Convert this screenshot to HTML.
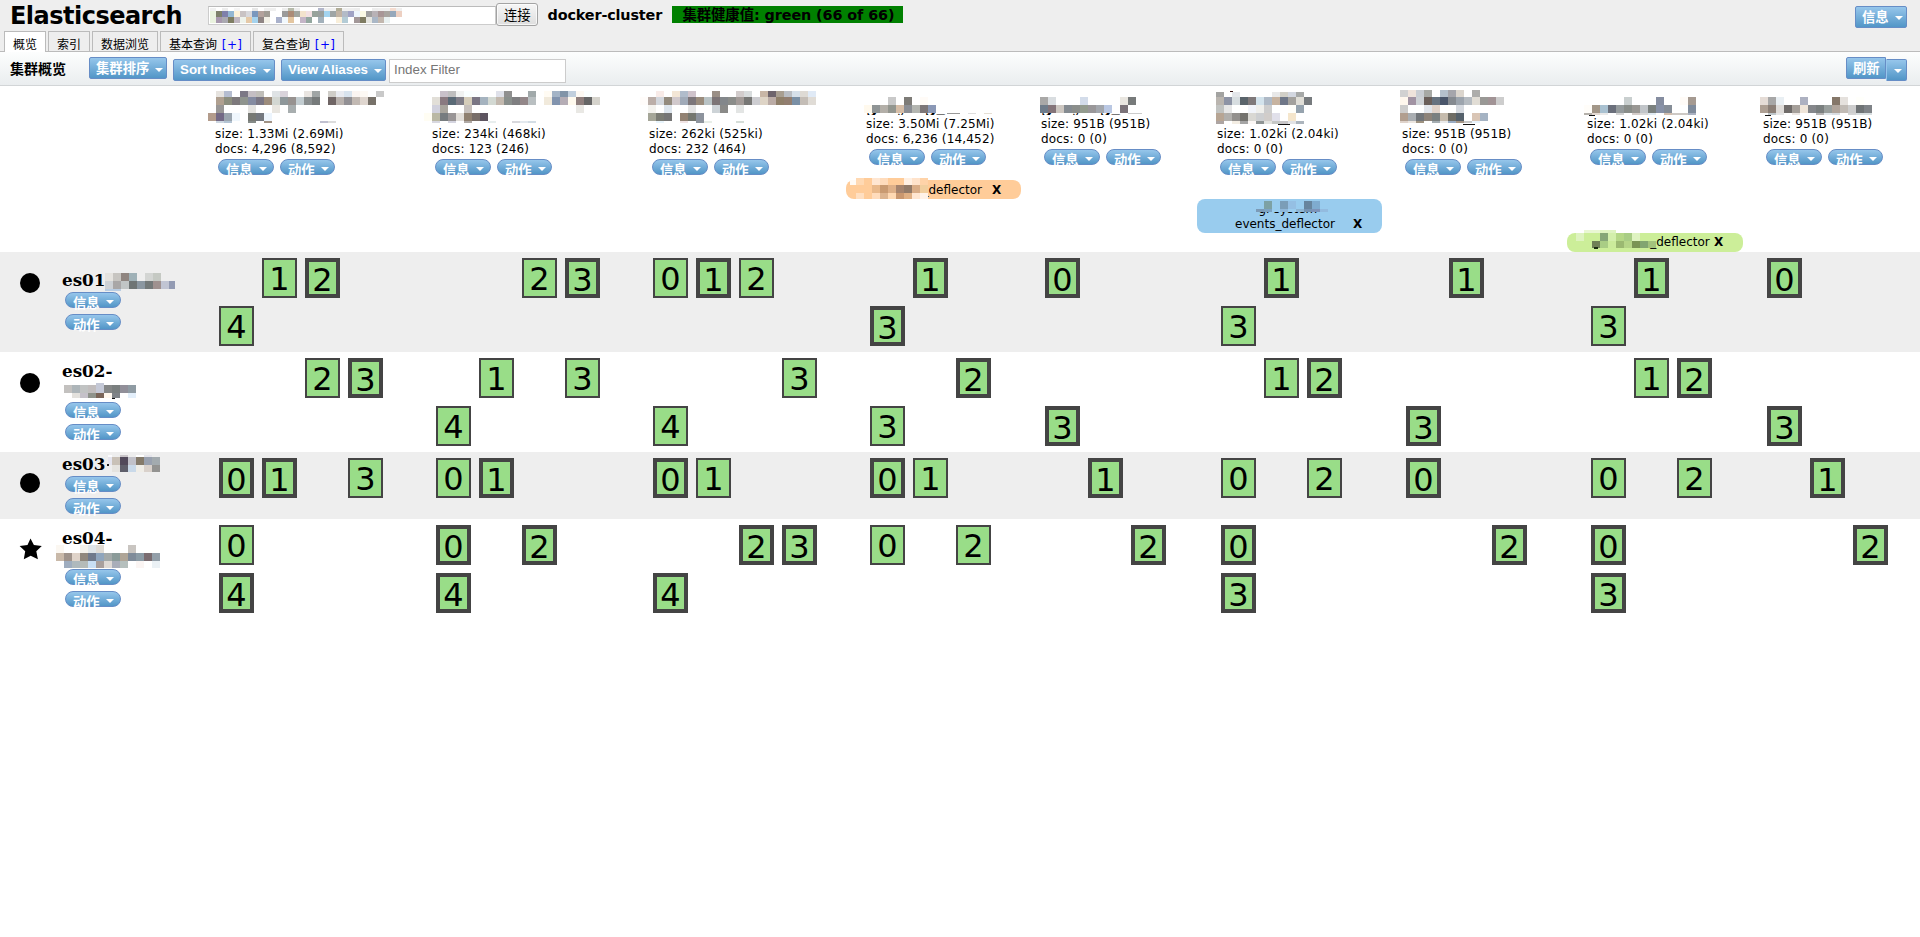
<!DOCTYPE html>
<html lang="zh"><head><meta charset="utf-8"><title>elasticsearch-head</title>
<style>
*{box-sizing:border-box}
html,body{margin:0;padding:0}
body{width:1920px;height:937px;position:relative;overflow:hidden;background:#fff;color:#000;
 font-family:"DejaVu Sans","Noto Sans CJK SC",sans-serif;font-size:12px;}
.abs{position:absolute;white-space:nowrap}
#hdr{left:0;top:0;width:1920px;height:51px;background:#eee}
#hline{left:0;top:51px;width:1920px;height:1px;background:#bbb}
#tbar{left:0;top:51px;width:1920px;height:34px;background:linear-gradient(#fdfefe,#eaedef)}
#tline{left:0;top:85px;width:1920px;height:1px;background:#d2d5d7}
h1{margin:0;font-size:24px;font-weight:bold;letter-spacing:-0.52px;line-height:28px}
.tab{top:31px;height:20px;border:1px solid #bbb;border-bottom:0;font-size:12px;line-height:14px;padding:6px 0 0 8px;background:#eee}
.tab.active{background:#fff;height:21px}
.tab i{font-style:normal;color:#00f;letter-spacing:0.4px;margin-left:1px}
.btn{border:1px solid #668dc6;border-radius:2px;background:linear-gradient(#96c6eb,#5296c7);color:#fff;
 font-family:"Liberation Sans","Noto Sans CJK SC",sans-serif;font-weight:bold;font-size:13.33px;height:22px;line-height:15px;padding:2px 0 0 6px}
.btn.cj{padding-top:3px}
.pill{border:1px solid #668dc6;border-radius:8px;background:linear-gradient(#96c6eb,#5296c7);color:#fff;
 font-family:"Liberation Sans","Noto Sans CJK SC",sans-serif;font-weight:bold;font-size:13.33px;height:16px;width:56px;line-height:15px;padding:3px 0 0 7px}
.arr{position:absolute;width:0;height:0;border-left:4px solid transparent;border-right:4px solid transparent;border-top:4.5px solid #fff}
.txt{font-size:12px;line-height:15px;letter-spacing:0.17px}
.sh{position:absolute;width:35px;height:40px;border:2px solid #444;background:#99dd88;font-size:32px;line-height:32px;text-align:center;padding-top:3px}
.sh.p{border-width:4px;padding-top:2px}
.row{left:0;width:1920px}
.node{font-family:"DejaVu Serif","Liberation Serif",serif;font-weight:bold;font-size:16.8px;line-height:20px}
.alias{font-size:12px;line-height:15px;border-radius:8px}
.alias b{font-weight:bold}
</style></head>
<body>
<div class="abs" id="hdr"></div>
<div class="abs" id="tbar"></div>
<div class="abs" id="hline"></div>
<div class="abs" id="tline"></div>
<h1 class="abs" style="left:10px;top:2px">Elasticsearch</h1>
<div class="abs" style="left:208px;top:6px;width:288px;height:19px;background:#fff;border:1px solid #ccc;border-top-color:#bbb"></div>
<div class="abs" style="left:496px;top:3px;width:42px;height:23px;border:1px solid #a3a3a3;border-radius:3px;background:linear-gradient(#f6f6f6,#dedede);box-shadow:inset 0 0 0 1px rgba(255,255,255,.7);font-size:13.33px;line-height:16px;padding:4px 0 0 7px">连接</div>
<div class="abs" style="left:547.6px;top:6px;font-weight:bold;font-size:14.4px;line-height:18px;letter-spacing:-0.16px">docker-cluster</div>
<div class="abs" style="left:672px;top:6px;width:231px;height:17px;background:#008000;font-weight:bold;font-size:14.4px;line-height:19px;letter-spacing:-0.1px;padding-left:10.5px">集群健康值: green (66 of 66)</div>
<div class="abs btn cj" style="left:1855px;top:6px;width:52px">信息<span class="arr" style="left:39px;top:9px"></span></div>
<div class="abs tab active" style="left:4px;width:42px">概览</div>
<div class="abs tab" style="left:48px;width:42px">索引</div>
<div class="abs tab" style="left:92px;width:66px">数据浏览</div>
<div class="abs tab" style="left:160px;width:91px">基本查询 <i>[+]</i></div>
<div class="abs tab" style="left:253px;width:91px">复合查询 <i>[+]</i></div>
<div class="abs" style="left:10px;top:60px;font-weight:bold;font-size:14px;line-height:18px">集群概览</div>
<div class="abs btn cj" style="left:89px;top:57px;width:78px">集群排序<span class="arr" style="left:65px;top:10px"></span></div>
<div class="abs btn" style="left:173px;top:59px;width:102px">Sort Indices<span class="arr" style="left:89px;top:9px"></span></div>
<div class="abs btn" style="left:281px;top:59px;width:105px">View Aliases<span class="arr" style="left:92px;top:9px"></span></div>
<div class="abs" style="left:389px;top:59px;width:177px;height:24px;background:#fff;border:1px solid #ccc;font-family:'Liberation Sans',sans-serif;font-size:13.33px;line-height:16px;color:#767676;padding:2px 0 0 4px">Index Filter</div>
<div class="abs btn cj" style="left:1846px;top:57px;width:40px;border-radius:2px 0 0 2px">刷新</div>
<div class="abs btn" style="left:1886px;top:59px;width:21px;border-radius:0 2px 2px 0;border-left-color:#96c6eb"><span class="arr" style="left:7px;top:9px"></span></div>
<div class="abs row" style="top:252px;height:100px;background:#eee"></div>
<div class="abs row" style="top:452px;height:67px;background:#eee"></div>
<div class="abs txt" style="left:215px;top:127px">size: 1.33Mi (2.69Mi)<br>docs: 4,296 (8,592)</div>
<div class="abs pill" style="left:218px;top:159px;width:56px">信息<span class="arr" style="left:40px;top:7px"></span></div>
<div class="abs pill" style="left:280px;top:159px;width:55px">动作<span class="arr" style="left:40px;top:7px"></span></div>
<div class="abs txt" style="left:432px;top:127px">size: 234ki (468ki)<br>docs: 123 (246)</div>
<div class="abs pill" style="left:435px;top:159px;width:56px">信息<span class="arr" style="left:40px;top:7px"></span></div>
<div class="abs pill" style="left:497px;top:159px;width:55px">动作<span class="arr" style="left:40px;top:7px"></span></div>
<div class="abs txt" style="left:649px;top:127px">size: 262ki (525ki)<br>docs: 232 (464)</div>
<div class="abs pill" style="left:652px;top:159px;width:56px">信息<span class="arr" style="left:40px;top:7px"></span></div>
<div class="abs pill" style="left:714px;top:159px;width:55px">动作<span class="arr" style="left:40px;top:7px"></span></div>
<div class="abs txt" style="left:866px;top:117px">size: 3.50Mi (7.25Mi)<br>docs: 6,236 (14,452)</div>
<div class="abs pill" style="left:869px;top:149px;width:56px">信息<span class="arr" style="left:40px;top:7px"></span></div>
<div class="abs pill" style="left:931px;top:149px;width:55px">动作<span class="arr" style="left:40px;top:7px"></span></div>
<div class="abs txt" style="left:1041px;top:117px">size: 951B (951B)<br>docs: 0 (0)</div>
<div class="abs pill" style="left:1044px;top:149px;width:56px">信息<span class="arr" style="left:40px;top:7px"></span></div>
<div class="abs pill" style="left:1106px;top:149px;width:55px">动作<span class="arr" style="left:40px;top:7px"></span></div>
<div class="abs txt" style="left:1217px;top:127px">size: 1.02ki (2.04ki)<br>docs: 0 (0)</div>
<div class="abs pill" style="left:1220px;top:159px;width:56px">信息<span class="arr" style="left:40px;top:7px"></span></div>
<div class="abs pill" style="left:1282px;top:159px;width:55px">动作<span class="arr" style="left:40px;top:7px"></span></div>
<div class="abs txt" style="left:1402px;top:127px">size: 951B (951B)<br>docs: 0 (0)</div>
<div class="abs pill" style="left:1405px;top:159px;width:56px">信息<span class="arr" style="left:40px;top:7px"></span></div>
<div class="abs pill" style="left:1467px;top:159px;width:55px">动作<span class="arr" style="left:40px;top:7px"></span></div>
<div class="abs txt" style="left:1587px;top:117px">size: 1.02ki (2.04ki)<br>docs: 0 (0)</div>
<div class="abs pill" style="left:1590px;top:149px;width:56px">信息<span class="arr" style="left:40px;top:7px"></span></div>
<div class="abs pill" style="left:1652px;top:149px;width:55px">动作<span class="arr" style="left:40px;top:7px"></span></div>
<div class="abs txt" style="left:1763px;top:117px">size: 951B (951B)<br>docs: 0 (0)</div>
<div class="abs pill" style="left:1766px;top:149px;width:56px">信息<span class="arr" style="left:40px;top:7px"></span></div>
<div class="abs pill" style="left:1828px;top:149px;width:55px">动作<span class="arr" style="left:40px;top:7px"></span></div>
<div class="abs node" style="left:866px;top:113px;width:84px;height:2px;overflow:hidden"><span style="position:absolute;left:0;top:-17.4px">graylog_</span></div>
<div class="abs node" style="left:1041px;top:113px;width:84px;height:2px;overflow:hidden"><span style="position:absolute;left:0;top:-17.4px">graylog_</span></div>
<div class="abs alias" style="left:846px;top:180px;width:175px;height:19px;background:#ffcc99;padding:3px 0 0 76.5px">_deflector<b style="position:absolute;left:146px">X</b></div>
<div class="abs alias" style="left:1197px;top:199px;width:185px;height:34px;background:#99ccee;padding:18px 0 0 38px">events_deflector<b style="position:absolute;left:156px">X</b></div>
<div class="abs alias" style="left:1567px;top:233px;width:176px;height:19px;background:#ccee99;padding:2px 0 0 83.2px">_deflector<b style="position:absolute;left:147px">X</b></div>
<div class="abs" style="left:1197px;top:212px;width:185px;height:4px;overflow:hidden;font-size:12px;line-height:15px"><span style="position:absolute;left:61.5px;top:-10.2px">gl-system-</span></div>
<div class="abs node" style="left:62px;top:270px">es01</div>
<div class="abs pill" style="left:65px;top:292px;width:56px">信息<span class="arr" style="left:40px;top:7px"></span></div>
<div class="abs pill" style="left:65px;top:314px;width:56px">动作<span class="arr" style="left:40px;top:7px"></span></div>
<div class="abs" style="left:20px;top:272.5px;width:20px;height:20px;border-radius:50%;background:#000"></div>
<div class="abs node" style="left:62px;top:361px">es02-</div>
<div class="abs pill" style="left:65px;top:402px;width:56px">信息<span class="arr" style="left:40px;top:7px"></span></div>
<div class="abs pill" style="left:65px;top:424px;width:56px">动作<span class="arr" style="left:40px;top:7px"></span></div>
<div class="abs" style="left:20px;top:372.5px;width:20px;height:20px;border-radius:50%;background:#000"></div>
<div class="abs node" style="left:62px;top:454px">es03</div>
<div class="abs pill" style="left:65px;top:476px;width:56px">信息<span class="arr" style="left:40px;top:7px"></span></div>
<div class="abs pill" style="left:65px;top:498px;width:56px">动作<span class="arr" style="left:40px;top:7px"></span></div>
<div class="abs" style="left:20px;top:472.5px;width:20px;height:20px;border-radius:50%;background:#000"></div>
<div class="abs node" style="left:62px;top:528px">es04-</div>
<div class="abs pill" style="left:65px;top:569px;width:56px">信息<span class="arr" style="left:40px;top:7px"></span></div>
<div class="abs pill" style="left:65px;top:591px;width:56px">动作<span class="arr" style="left:40px;top:7px"></span></div>
<svg class="abs" style="left:19px;top:538px" width="24" height="23" viewBox="0 0 24 23"><polygon fill="#000" points="11.5,0.6 14.9,7 22.8,7.9 17.3,13.2 18.9,21.3 11.7,17.8 4.8,21.3 6.2,13.2 0.6,7.9 8.5,7"/></svg>
<div class="sh" style="left:262px;top:258px">1</div>
<div class="sh p" style="left:305px;top:258px">2</div>
<div class="sh" style="left:219px;top:306px">4</div>
<div class="sh" style="left:522px;top:258px">2</div>
<div class="sh p" style="left:565px;top:258px">3</div>
<div class="sh" style="left:653px;top:258px">0</div>
<div class="sh p" style="left:696px;top:258px">1</div>
<div class="sh" style="left:739px;top:258px">2</div>
<div class="sh p" style="left:913px;top:258px">1</div>
<div class="sh p" style="left:870px;top:306px">3</div>
<div class="sh p" style="left:1045px;top:258px">0</div>
<div class="sh p" style="left:1264px;top:258px">1</div>
<div class="sh" style="left:1221px;top:306px">3</div>
<div class="sh p" style="left:1449px;top:258px">1</div>
<div class="sh p" style="left:1634px;top:258px">1</div>
<div class="sh" style="left:1591px;top:306px">3</div>
<div class="sh p" style="left:1767px;top:258px">0</div>
<div class="sh" style="left:305px;top:358px">2</div>
<div class="sh p" style="left:348px;top:358px">3</div>
<div class="sh" style="left:479px;top:358px">1</div>
<div class="sh" style="left:565px;top:358px">3</div>
<div class="sh" style="left:436px;top:406px">4</div>
<div class="sh" style="left:782px;top:358px">3</div>
<div class="sh" style="left:653px;top:406px">4</div>
<div class="sh p" style="left:956px;top:358px">2</div>
<div class="sh" style="left:870px;top:406px">3</div>
<div class="sh p" style="left:1045px;top:406px">3</div>
<div class="sh" style="left:1264px;top:358px">1</div>
<div class="sh p" style="left:1307px;top:358px">2</div>
<div class="sh p" style="left:1406px;top:406px">3</div>
<div class="sh" style="left:1634px;top:358px">1</div>
<div class="sh p" style="left:1677px;top:358px">2</div>
<div class="sh p" style="left:1767px;top:406px">3</div>
<div class="sh p" style="left:219px;top:458px">0</div>
<div class="sh p" style="left:262px;top:458px">1</div>
<div class="sh" style="left:348px;top:458px">3</div>
<div class="sh" style="left:436px;top:458px">0</div>
<div class="sh p" style="left:479px;top:458px">1</div>
<div class="sh p" style="left:653px;top:458px">0</div>
<div class="sh" style="left:696px;top:458px">1</div>
<div class="sh p" style="left:870px;top:458px">0</div>
<div class="sh" style="left:913px;top:458px">1</div>
<div class="sh p" style="left:1088px;top:458px">1</div>
<div class="sh" style="left:1221px;top:458px">0</div>
<div class="sh" style="left:1307px;top:458px">2</div>
<div class="sh p" style="left:1406px;top:458px">0</div>
<div class="sh" style="left:1591px;top:458px">0</div>
<div class="sh" style="left:1677px;top:458px">2</div>
<div class="sh p" style="left:1810px;top:458px">1</div>
<div class="sh" style="left:219px;top:525px">0</div>
<div class="sh p" style="left:219px;top:573px">4</div>
<div class="sh p" style="left:436px;top:525px">0</div>
<div class="sh p" style="left:522px;top:525px">2</div>
<div class="sh p" style="left:436px;top:573px">4</div>
<div class="sh p" style="left:739px;top:525px">2</div>
<div class="sh p" style="left:782px;top:525px">3</div>
<div class="sh p" style="left:653px;top:573px">4</div>
<div class="sh" style="left:870px;top:525px">0</div>
<div class="sh" style="left:956px;top:525px">2</div>
<div class="sh p" style="left:1131px;top:525px">2</div>
<div class="sh p" style="left:1221px;top:525px">0</div>
<div class="sh p" style="left:1221px;top:573px">3</div>
<div class="sh p" style="left:1492px;top:525px">2</div>
<div class="sh p" style="left:1591px;top:525px">0</div>
<div class="sh p" style="left:1591px;top:573px">3</div>
<div class="sh p" style="left:1853px;top:525px">2</div>
<svg class="abs" style="left:0;top:0;pointer-events:none" width="1920" height="937" viewBox="0 0 1920 937" shape-rendering="crispEdges"><rect x="210" y="8" width="6" height="3" fill="#f1f1f1"/><rect x="222" y="8" width="6" height="3" fill="#ededed"/><rect x="234" y="8" width="6" height="3" fill="#f5f5f5"/><rect x="252" y="8" width="6" height="3" fill="#e7e7e7"/><rect x="264" y="8" width="6" height="3" fill="#efefef"/><rect x="270" y="8" width="6" height="3" fill="#efefef"/><rect x="282" y="8" width="6" height="3" fill="#ededed"/><rect x="288" y="8" width="6" height="3" fill="#b7bbab"/><rect x="294" y="8" width="6" height="3" fill="#ededed"/><rect x="318" y="8" width="6" height="3" fill="#b3b7cb"/><rect x="324" y="8" width="6" height="3" fill="#efefef"/><rect x="330" y="8" width="6" height="3" fill="#f1f1f1"/><rect x="336" y="8" width="6" height="3" fill="#b1ad97"/><rect x="342" y="8" width="6" height="3" fill="#efefef"/><rect x="348" y="8" width="6" height="3" fill="#efefef"/><rect x="354" y="8" width="6" height="3" fill="#ededed"/><rect x="372" y="8" width="6" height="3" fill="#ededed"/><rect x="378" y="8" width="6" height="3" fill="#efefef"/><rect x="384" y="8" width="6" height="3" fill="#efefef"/><rect x="390" y="8" width="6" height="3" fill="#f5ddd1"/><rect x="396" y="8" width="6" height="3" fill="#efefef"/><rect x="210" y="11" width="6" height="6" fill="#eaf3df"/><rect x="216" y="11" width="6" height="6" fill="#7d806a"/><rect x="222" y="11" width="6" height="6" fill="#7f80ab"/><rect x="228" y="11" width="6" height="6" fill="#93b7d3"/><rect x="234" y="11" width="6" height="6" fill="#fdf2da"/><rect x="240" y="11" width="6" height="6" fill="#c9c3c4"/><rect x="246" y="11" width="6" height="6" fill="#d8d8dc"/><rect x="252" y="11" width="6" height="6" fill="#7a97bd"/><rect x="258" y="11" width="6" height="6" fill="#b3a29c"/><rect x="264" y="11" width="6" height="6" fill="#a09c94"/><rect x="282" y="11" width="6" height="6" fill="#9b9b9b"/><rect x="288" y="11" width="6" height="6" fill="#ac8c77"/><rect x="294" y="11" width="6" height="6" fill="#a2a69f"/><rect x="300" y="11" width="6" height="6" fill="#f3e3cd"/><rect x="306" y="11" width="6" height="6" fill="#f3e1e3"/><rect x="312" y="11" width="6" height="6" fill="#98a39c"/><rect x="318" y="11" width="6" height="6" fill="#9aa09e"/><rect x="324" y="11" width="6" height="6" fill="#a3d4f0"/><rect x="330" y="11" width="6" height="6" fill="#9fa5a5"/><rect x="336" y="11" width="6" height="6" fill="#c1b3a3"/><rect x="342" y="11" width="6" height="6" fill="#b3bbc7"/><rect x="348" y="11" width="6" height="6" fill="#a0a3c5"/><rect x="354" y="11" width="6" height="6" fill="#eef6fd"/><rect x="360" y="11" width="6" height="6" fill="#fbfae5"/><rect x="366" y="11" width="6" height="6" fill="#a0a0a0"/><rect x="372" y="11" width="6" height="6" fill="#b8b2b6"/><rect x="378" y="11" width="6" height="6" fill="#a89696"/><rect x="384" y="11" width="6" height="6" fill="#a8a49f"/><rect x="390" y="11" width="6" height="6" fill="#96a8bb"/><rect x="396" y="11" width="6" height="6" fill="#edd0c2"/><rect x="210" y="17" width="6" height="6" fill="#eaf3df"/><rect x="216" y="17" width="6" height="6" fill="#a798ae"/><rect x="222" y="17" width="6" height="6" fill="#aaa9b1"/><rect x="228" y="17" width="6" height="6" fill="#7e7d63"/><rect x="234" y="17" width="6" height="6" fill="#c0b7c1"/><rect x="240" y="17" width="6" height="6" fill="#eef3ec"/><rect x="246" y="17" width="6" height="6" fill="#e5c9a8"/><rect x="252" y="17" width="6" height="6" fill="#a5d3ee"/><rect x="258" y="17" width="6" height="6" fill="#8f8584"/><rect x="264" y="17" width="6" height="6" fill="#f3f1e7"/><rect x="276" y="17" width="6" height="6" fill="#a9b1cb"/><rect x="282" y="17" width="6" height="6" fill="#f1f8fd"/><rect x="288" y="17" width="6" height="6" fill="#e4c6a0"/><rect x="300" y="17" width="6" height="6" fill="#c4b5c7"/><rect x="306" y="17" width="6" height="6" fill="#93a79f"/><rect x="318" y="17" width="6" height="6" fill="#a3b1bb"/><rect x="336" y="17" width="6" height="6" fill="#f9efda"/><rect x="342" y="17" width="6" height="6" fill="#b4ccd6"/><rect x="354" y="17" width="6" height="6" fill="#a39899"/><rect x="360" y="17" width="6" height="6" fill="#7f7c62"/><rect x="366" y="17" width="6" height="6" fill="#e6e6e0"/><rect x="372" y="17" width="6" height="6" fill="#aab7c6"/><rect x="378" y="17" width="6" height="6" fill="#c2b7ae"/><rect x="384" y="17" width="6" height="6" fill="#e9f1f1"/><rect x="216" y="91" width="8" height="6" fill="#e6e3df"/><rect x="224" y="91" width="8" height="6" fill="#b5bdd0"/><rect x="240" y="91" width="8" height="6" fill="#7c7886"/><rect x="248" y="91" width="8" height="6" fill="#c4bec3"/><rect x="256" y="91" width="8" height="6" fill="#c0beb9"/><rect x="272" y="91" width="8" height="6" fill="#dfe3e5"/><rect x="280" y="91" width="8" height="6" fill="#d9d3db"/><rect x="304" y="91" width="8" height="6" fill="#e9e5e1"/><rect x="312" y="91" width="8" height="6" fill="#a0a5a5"/><rect x="328" y="91" width="8" height="6" fill="#cfcdc8"/><rect x="336" y="91" width="8" height="6" fill="#e9ebf1"/><rect x="344" y="91" width="8" height="6" fill="#d8e3ee"/><rect x="352" y="91" width="8" height="6" fill="#fbf5f2"/><rect x="360" y="91" width="8" height="6" fill="#fdf9f4"/><rect x="376" y="91" width="8" height="6" fill="#c9c9c9"/><rect x="216" y="97" width="8" height="8" fill="#b0a090"/><rect x="224" y="97" width="8" height="8" fill="#8c8e7e"/><rect x="232" y="97" width="8" height="8" fill="#7d797c"/><rect x="240" y="97" width="8" height="8" fill="#8f948e"/><rect x="248" y="97" width="8" height="8" fill="#848ba1"/><rect x="256" y="97" width="8" height="8" fill="#7a7684"/><rect x="264" y="97" width="8" height="8" fill="#9c8c7c"/><rect x="272" y="97" width="8" height="8" fill="#d3d7d2"/><rect x="280" y="97" width="8" height="8" fill="#8e979a"/><rect x="288" y="97" width="8" height="8" fill="#979290"/><rect x="296" y="97" width="8" height="8" fill="#c3cdd1"/><rect x="304" y="97" width="8" height="8" fill="#8a8f90"/><rect x="312" y="97" width="8" height="8" fill="#777b7b"/><rect x="328" y="97" width="8" height="8" fill="#6f6565"/><rect x="336" y="97" width="8" height="8" fill="#b9b2ae"/><rect x="344" y="97" width="8" height="8" fill="#929094"/><rect x="352" y="97" width="8" height="8" fill="#c2b9b3"/><rect x="360" y="97" width="8" height="8" fill="#dfd6cf"/><rect x="368" y="97" width="8" height="8" fill="#777169"/><rect x="216" y="105" width="8" height="8" fill="#999796"/><rect x="248" y="105" width="8" height="8" fill="#e3e2df"/><rect x="272" y="105" width="8" height="8" fill="#e9e6e0"/><rect x="288" y="105" width="8" height="8" fill="#a8aeaf"/><rect x="208" y="113" width="8" height="8" fill="#b39c8c"/><rect x="216" y="113" width="8" height="8" fill="#736985"/><rect x="224" y="113" width="8" height="8" fill="#9ba5ae"/><rect x="232" y="113" width="8" height="8" fill="#f0f7fd"/><rect x="248" y="113" width="8" height="8" fill="#777974"/><rect x="256" y="113" width="8" height="8" fill="#74787f"/><rect x="264" y="113" width="8" height="8" fill="#edf5fd"/><rect x="216" y="121" width="8" height="2" fill="#ccd6e0"/><rect x="224" y="121" width="8" height="2" fill="#b3c3d3"/><rect x="248" y="121" width="8" height="2" fill="#858b88"/><rect x="264" y="121" width="8" height="2" fill="#a09284"/><rect x="320" y="121" width="8" height="2" fill="#c0c0d0"/><rect x="328" y="121" width="8" height="2" fill="#dcdcdc"/><rect x="440" y="91" width="8" height="6" fill="#c8c0c9"/><rect x="448" y="91" width="8" height="6" fill="#bebebe"/><rect x="456" y="91" width="8" height="6" fill="#f0f2f1"/><rect x="464" y="91" width="8" height="6" fill="#f9ffff"/><rect x="472" y="91" width="8" height="6" fill="#fbffff"/><rect x="496" y="91" width="8" height="6" fill="#dfe1ea"/><rect x="504" y="91" width="8" height="6" fill="#8f8f8f"/><rect x="528" y="91" width="8" height="6" fill="#a1a9aa"/><rect x="544" y="91" width="8" height="6" fill="#fffbf3"/><rect x="552" y="91" width="8" height="6" fill="#a4b4c6"/><rect x="560" y="91" width="8" height="6" fill="#8294a8"/><rect x="568" y="91" width="8" height="6" fill="#c1cfdd"/><rect x="576" y="91" width="8" height="6" fill="#fdf9f3"/><rect x="584" y="91" width="8" height="6" fill="#fbffff"/><rect x="432" y="97" width="8" height="8" fill="#e2dfd8"/><rect x="440" y="97" width="8" height="8" fill="#8a7a80"/><rect x="448" y="97" width="8" height="8" fill="#5a6a76"/><rect x="456" y="97" width="8" height="8" fill="#807e88"/><rect x="464" y="97" width="8" height="8" fill="#d5cdba"/><rect x="472" y="97" width="8" height="8" fill="#7a7684"/><rect x="480" y="97" width="8" height="8" fill="#a5b3bf"/><rect x="488" y="97" width="8" height="8" fill="#d3d9d3"/><rect x="496" y="97" width="8" height="8" fill="#c3b9af"/><rect x="504" y="97" width="8" height="8" fill="#898f8c"/><rect x="512" y="97" width="8" height="8" fill="#7f7f81"/><rect x="520" y="97" width="8" height="8" fill="#938789"/><rect x="528" y="97" width="8" height="8" fill="#b9bfc1"/><rect x="544" y="97" width="8" height="8" fill="#f1eadc"/><rect x="552" y="97" width="8" height="8" fill="#8294ae"/><rect x="560" y="97" width="8" height="8" fill="#b5adb5"/><rect x="568" y="97" width="8" height="8" fill="#fffaee"/><rect x="576" y="97" width="8" height="8" fill="#8f7f7d"/><rect x="584" y="97" width="8" height="8" fill="#666666"/><rect x="592" y="97" width="8" height="8" fill="#d5d3cc"/><rect x="432" y="105" width="8" height="8" fill="#d1d1dd"/><rect x="440" y="105" width="8" height="8" fill="#a9a59d"/><rect x="464" y="105" width="8" height="8" fill="#c7c1bd"/><rect x="576" y="105" width="8" height="8" fill="#e9e8e4"/><rect x="424" y="113" width="8" height="8" fill="#fffdf3"/><rect x="432" y="113" width="8" height="8" fill="#bab8a4"/><rect x="440" y="113" width="8" height="8" fill="#777c7f"/><rect x="448" y="113" width="8" height="8" fill="#999596"/><rect x="456" y="113" width="8" height="8" fill="#e1ddd8"/><rect x="464" y="113" width="8" height="8" fill="#8f8070"/><rect x="472" y="113" width="8" height="8" fill="#786e69"/><rect x="480" y="113" width="8" height="8" fill="#5d5560"/><rect x="432" y="121" width="8" height="2" fill="#d8d8e0"/><rect x="448" y="121" width="8" height="2" fill="#d5d5e0"/><rect x="464" y="121" width="8" height="2" fill="#b0aaa6"/><rect x="488" y="121" width="8" height="2" fill="#e8eeee"/><rect x="512" y="121" width="8" height="2" fill="#d8d8dc"/><rect x="520" y="121" width="8" height="2" fill="#e3e9ef"/><rect x="528" y="121" width="8" height="2" fill="#d3dde5"/><rect x="656" y="91" width="8" height="6" fill="#f8ebe8"/><rect x="672" y="91" width="8" height="6" fill="#f3e6d6"/><rect x="680" y="91" width="8" height="6" fill="#b0bccb"/><rect x="688" y="91" width="8" height="6" fill="#cfc3cb"/><rect x="712" y="91" width="8" height="6" fill="#9a8f86"/><rect x="736" y="91" width="8" height="6" fill="#d2cccc"/><rect x="744" y="91" width="8" height="6" fill="#d8dcdd"/><rect x="760" y="91" width="8" height="6" fill="#c8b6a6"/><rect x="768" y="91" width="8" height="6" fill="#6e646c"/><rect x="776" y="91" width="8" height="6" fill="#a89e90"/><rect x="784" y="91" width="8" height="6" fill="#b9bdc3"/><rect x="792" y="91" width="8" height="6" fill="#d6e0ea"/><rect x="800" y="91" width="8" height="6" fill="#dedad4"/><rect x="808" y="91" width="8" height="6" fill="#e0eaf6"/><rect x="640" y="97" width="8" height="8" fill="#fffcfa"/><rect x="648" y="97" width="8" height="8" fill="#bbaea8"/><rect x="656" y="97" width="8" height="8" fill="#d3d7dd"/><rect x="664" y="97" width="8" height="8" fill="#938b7e"/><rect x="672" y="97" width="8" height="8" fill="#d1c9cc"/><rect x="680" y="97" width="8" height="8" fill="#a0aab8"/><rect x="688" y="97" width="8" height="8" fill="#7c767a"/><rect x="696" y="97" width="8" height="8" fill="#9a8c7d"/><rect x="704" y="97" width="8" height="8" fill="#b9c3c5"/><rect x="712" y="97" width="8" height="8" fill="#7c7476"/><rect x="720" y="97" width="8" height="8" fill="#83878b"/><rect x="728" y="97" width="8" height="8" fill="#8b8d8a"/><rect x="736" y="97" width="8" height="8" fill="#a39b98"/><rect x="744" y="97" width="8" height="8" fill="#777775"/><rect x="752" y="97" width="8" height="8" fill="#cdcdd1"/><rect x="760" y="97" width="8" height="8" fill="#ded4c6"/><rect x="768" y="97" width="8" height="8" fill="#bbaca6"/><rect x="776" y="97" width="8" height="8" fill="#8f7f69"/><rect x="784" y="97" width="8" height="8" fill="#927e70"/><rect x="792" y="97" width="8" height="8" fill="#7a90a6"/><rect x="800" y="97" width="8" height="8" fill="#c4bdb6"/><rect x="808" y="97" width="8" height="8" fill="#e0dcd6"/><rect x="648" y="105" width="8" height="8" fill="#f3f2ee"/><rect x="664" y="105" width="8" height="8" fill="#dde5ed"/><rect x="688" y="105" width="8" height="8" fill="#e3e3e3"/><rect x="712" y="105" width="8" height="8" fill="#cdd3d7"/><rect x="720" y="105" width="8" height="8" fill="#8a8a88"/><rect x="736" y="105" width="8" height="8" fill="#e3e5e4"/><rect x="648" y="113" width="8" height="8" fill="#a5a698"/><rect x="656" y="113" width="8" height="8" fill="#7b7c74"/><rect x="664" y="113" width="8" height="8" fill="#757575"/><rect x="680" y="113" width="8" height="8" fill="#928273"/><rect x="688" y="113" width="8" height="8" fill="#75776f"/><rect x="696" y="113" width="8" height="8" fill="#8d939d"/><rect x="656" y="121" width="8" height="2" fill="#e8f4fc"/><rect x="680" y="121" width="8" height="2" fill="#f0e4e4"/><rect x="696" y="121" width="8" height="2" fill="#8f959d"/><rect x="704" y="121" width="8" height="2" fill="#e8eee8"/><rect x="736" y="121" width="8" height="2" fill="#d5ddd8"/><rect x="888" y="97" width="8" height="8" fill="#c9c9c9"/><rect x="904" y="97" width="8" height="8" fill="#7d7b77"/><rect x="920" y="97" width="8" height="8" fill="#fffbf7"/><rect x="864" y="105" width="8" height="8" fill="#fff9ed"/><rect x="872" y="105" width="8" height="8" fill="#8f9495"/><rect x="880" y="105" width="8" height="8" fill="#b3afa8"/><rect x="888" y="105" width="8" height="8" fill="#93968f"/><rect x="896" y="105" width="8" height="8" fill="#d5bda7"/><rect x="904" y="105" width="8" height="8" fill="#8b8e94"/><rect x="912" y="105" width="8" height="8" fill="#b3b5b0"/><rect x="920" y="105" width="8" height="8" fill="#7c7678"/><rect x="928" y="105" width="8" height="8" fill="#8a98b6"/><rect x="1040" y="97" width="8" height="8" fill="#a9a8a7"/><rect x="1048" y="97" width="8" height="8" fill="#d9dde0"/><rect x="1080" y="97" width="8" height="8" fill="#d3dcea"/><rect x="1120" y="97" width="8" height="8" fill="#e9e6e0"/><rect x="1128" y="97" width="8" height="8" fill="#777a7a"/><rect x="1040" y="105" width="8" height="8" fill="#6f7c8a"/><rect x="1048" y="105" width="8" height="8" fill="#847479"/><rect x="1056" y="105" width="8" height="8" fill="#cdc7c1"/><rect x="1064" y="105" width="8" height="8" fill="#858b91"/><rect x="1072" y="105" width="8" height="8" fill="#8b8e8b"/><rect x="1080" y="105" width="8" height="8" fill="#939b8e"/><rect x="1088" y="105" width="8" height="8" fill="#999799"/><rect x="1096" y="105" width="8" height="8" fill="#a3a7ad"/><rect x="1104" y="105" width="8" height="8" fill="#bac8e3"/><rect x="1120" y="105" width="8" height="8" fill="#7b7379"/><rect x="1216" y="92" width="8" height="5" fill="#a3a3a1"/><rect x="1232" y="92" width="8" height="5" fill="#e4e6ea"/><rect x="1272" y="92" width="8" height="5" fill="#e8e8e8"/><rect x="1280" y="92" width="8" height="5" fill="#d1cfc7"/><rect x="1288" y="92" width="8" height="5" fill="#d3d7e0"/><rect x="1296" y="92" width="8" height="5" fill="#a7a9a8"/><rect x="1216" y="97" width="8" height="8" fill="#bab5af"/><rect x="1224" y="97" width="8" height="8" fill="#8d93a5"/><rect x="1232" y="97" width="8" height="8" fill="#d7dde0"/><rect x="1240" y="97" width="8" height="8" fill="#5a646b"/><rect x="1248" y="97" width="8" height="8" fill="#7f797a"/><rect x="1256" y="97" width="8" height="8" fill="#d3e3ec"/><rect x="1264" y="97" width="8" height="8" fill="#aeb9c6"/><rect x="1272" y="97" width="8" height="8" fill="#c7b3a0"/><rect x="1280" y="97" width="8" height="8" fill="#6f7788"/><rect x="1288" y="97" width="8" height="8" fill="#a3a19d"/><rect x="1296" y="97" width="8" height="8" fill="#e0ded7"/><rect x="1304" y="97" width="8" height="8" fill="#777b7e"/><rect x="1216" y="105" width="8" height="8" fill="#c1c3c1"/><rect x="1224" y="105" width="8" height="8" fill="#e6e6e6"/><rect x="1248" y="105" width="8" height="8" fill="#f1f4fa"/><rect x="1256" y="105" width="8" height="8" fill="#efefeb"/><rect x="1264" y="105" width="8" height="8" fill="#cdcdcd"/><rect x="1288" y="105" width="8" height="8" fill="#fffffb"/><rect x="1296" y="105" width="8" height="8" fill="#96a3ae"/><rect x="1216" y="113" width="8" height="8" fill="#b7a594"/><rect x="1224" y="113" width="8" height="8" fill="#b1afac"/><rect x="1232" y="113" width="8" height="8" fill="#93908d"/><rect x="1240" y="113" width="8" height="8" fill="#73726e"/><rect x="1248" y="113" width="8" height="8" fill="#d9d8d3"/><rect x="1256" y="113" width="8" height="8" fill="#cdcfd1"/><rect x="1264" y="113" width="8" height="8" fill="#d1cdca"/><rect x="1272" y="113" width="8" height="8" fill="#e1e0ea"/><rect x="1288" y="113" width="8" height="8" fill="#f5e6cc"/><rect x="1216" y="121" width="8" height="3" fill="#ada5a3"/><rect x="1232" y="121" width="8" height="3" fill="#f3ede3"/><rect x="1240" y="121" width="8" height="3" fill="#a5a5a5"/><rect x="1248" y="121" width="8" height="3" fill="#fbf7f5"/><rect x="1256" y="121" width="8" height="3" fill="#8f9494"/><rect x="1264" y="121" width="8" height="3" fill="#e3e3df"/><rect x="1272" y="121" width="8" height="3" fill="#c5c7c5"/><rect x="1280" y="121" width="8" height="3" fill="#c7c5c7"/><rect x="1288" y="121" width="8" height="3" fill="#e3e3e5"/><rect x="1296" y="121" width="8" height="3" fill="#adb5bd"/><rect x="1400" y="90" width="8" height="7" fill="#d1d1d1"/><rect x="1408" y="90" width="8" height="7" fill="#efe3db"/><rect x="1416" y="90" width="8" height="7" fill="#c9cdd3"/><rect x="1424" y="90" width="8" height="7" fill="#a7a9a5"/><rect x="1440" y="90" width="8" height="7" fill="#b5c1cd"/><rect x="1448" y="90" width="8" height="7" fill="#a5a5ab"/><rect x="1456" y="90" width="8" height="7" fill="#dbd5cd"/><rect x="1472" y="90" width="8" height="7" fill="#adadab"/><rect x="1400" y="97" width="8" height="8" fill="#fff7ed"/><rect x="1408" y="97" width="8" height="8" fill="#a193a3"/><rect x="1416" y="97" width="8" height="8" fill="#cdd1d5"/><rect x="1424" y="97" width="8" height="8" fill="#6a5f5a"/><rect x="1432" y="97" width="8" height="8" fill="#66727f"/><rect x="1440" y="97" width="8" height="8" fill="#4a566b"/><rect x="1448" y="97" width="8" height="8" fill="#858a90"/><rect x="1456" y="97" width="8" height="8" fill="#9ca4ad"/><rect x="1464" y="97" width="8" height="8" fill="#b5bbc1"/><rect x="1472" y="97" width="8" height="8" fill="#e1ddd5"/><rect x="1480" y="97" width="8" height="8" fill="#999895"/><rect x="1488" y="97" width="8" height="8" fill="#a19395"/><rect x="1496" y="97" width="8" height="8" fill="#cdcdcd"/><rect x="1400" y="105" width="8" height="8" fill="#cdcccb"/><rect x="1424" y="105" width="8" height="8" fill="#e1e5eb"/><rect x="1432" y="105" width="8" height="8" fill="#e1d3c9"/><rect x="1456" y="105" width="8" height="8" fill="#d5d9df"/><rect x="1400" y="113" width="8" height="8" fill="#b19e8f"/><rect x="1408" y="113" width="8" height="8" fill="#a9adb1"/><rect x="1416" y="113" width="8" height="8" fill="#72767a"/><rect x="1424" y="113" width="8" height="8" fill="#8d8379"/><rect x="1432" y="113" width="8" height="8" fill="#7a8080"/><rect x="1440" y="113" width="8" height="8" fill="#c5bbad"/><rect x="1448" y="113" width="8" height="8" fill="#6f6d65"/><rect x="1456" y="113" width="8" height="8" fill="#55616b"/><rect x="1472" y="113" width="8" height="8" fill="#d9c5b5"/><rect x="1480" y="113" width="8" height="8" fill="#a5b3c3"/><rect x="1400" y="121" width="8" height="2" fill="#dfd3cb"/><rect x="1408" y="121" width="8" height="2" fill="#ebe5df"/><rect x="1416" y="121" width="8" height="2" fill="#9f9381"/><rect x="1432" y="121" width="8" height="2" fill="#a5adb1"/><rect x="1440" y="121" width="8" height="2" fill="#e9e9e9"/><rect x="1448" y="121" width="8" height="2" fill="#9badc3"/><rect x="1456" y="121" width="8" height="2" fill="#a59585"/><rect x="1464" y="121" width="8" height="2" fill="#c9c9c9"/><rect x="1472" y="121" width="8" height="2" fill="#e9f3fb"/><rect x="1624" y="97" width="8" height="8" fill="#c9cfcf"/><rect x="1656" y="97" width="8" height="8" fill="#858da0"/><rect x="1680" y="97" width="8" height="8" fill="#fffbf7"/><rect x="1688" y="97" width="8" height="8" fill="#a59a91"/><rect x="1584" y="105" width="8" height="8" fill="#fffdf9"/><rect x="1592" y="105" width="8" height="8" fill="#a39789"/><rect x="1600" y="105" width="8" height="8" fill="#a9c1d1"/><rect x="1608" y="105" width="8" height="8" fill="#6a6f7b"/><rect x="1616" y="105" width="8" height="8" fill="#959b9d"/><rect x="1624" y="105" width="8" height="8" fill="#898d89"/><rect x="1632" y="105" width="8" height="8" fill="#999793"/><rect x="1640" y="105" width="8" height="8" fill="#c1c5c9"/><rect x="1648" y="105" width="8" height="8" fill="#7a807e"/><rect x="1656" y="105" width="8" height="8" fill="#8791a7"/><rect x="1664" y="105" width="8" height="8" fill="#858d97"/><rect x="1688" y="105" width="8" height="8" fill="#7f8b9b"/><rect x="1584" y="113" width="8" height="2" fill="#b5b1ab"/><rect x="1592" y="113" width="8" height="2" fill="#e5dbd3"/><rect x="1600" y="113" width="8" height="2" fill="#e9e9e9"/><rect x="1616" y="113" width="8" height="2" fill="#d3d3d3"/><rect x="1632" y="113" width="8" height="2" fill="#d5cdc9"/><rect x="1640" y="113" width="8" height="2" fill="#d9d9d9"/><rect x="1648" y="113" width="8" height="2" fill="#e1ebf3"/><rect x="1664" y="113" width="8" height="2" fill="#d3bfaf"/><rect x="1672" y="113" width="8" height="2" fill="#cdc9c5"/><rect x="1680" y="113" width="8" height="2" fill="#cdc9c5"/><rect x="1688" y="113" width="8" height="2" fill="#a9b1c1"/><rect x="1760" y="97" width="8" height="8" fill="#e5dcd6"/><rect x="1768" y="97" width="8" height="8" fill="#a7a7a7"/><rect x="1776" y="97" width="8" height="8" fill="#e9eff3"/><rect x="1800" y="97" width="8" height="8" fill="#adb1c1"/><rect x="1832" y="97" width="8" height="8" fill="#857769"/><rect x="1840" y="97" width="8" height="8" fill="#e5e1dd"/><rect x="1856" y="97" width="8" height="8" fill="#fffffb"/><rect x="1760" y="105" width="8" height="8" fill="#ad9f93"/><rect x="1768" y="105" width="8" height="8" fill="#8b7f77"/><rect x="1776" y="105" width="8" height="8" fill="#dfdcd9"/><rect x="1784" y="105" width="8" height="8" fill="#6f6b69"/><rect x="1792" y="105" width="8" height="8" fill="#a59f99"/><rect x="1800" y="105" width="8" height="8" fill="#efe5d9"/><rect x="1808" y="105" width="8" height="8" fill="#85878b"/><rect x="1816" y="105" width="8" height="8" fill="#7a7f7f"/><rect x="1824" y="105" width="8" height="8" fill="#999f9d"/><rect x="1832" y="105" width="8" height="8" fill="#b1a59b"/><rect x="1840" y="105" width="8" height="8" fill="#c1bbb5"/><rect x="1848" y="105" width="8" height="8" fill="#cdcdcd"/><rect x="1856" y="105" width="8" height="8" fill="#6f7375"/><rect x="1864" y="105" width="8" height="8" fill="#7f8387"/><rect x="1768" y="113" width="8" height="2" fill="#bfc7cb"/><rect x="1776" y="113" width="8" height="2" fill="#e5e5e5"/><rect x="1792" y="113" width="8" height="2" fill="#ece6e2"/><rect x="1816" y="113" width="8" height="2" fill="#b5b3b3"/><rect x="1824" y="113" width="8" height="2" fill="#e1e7eb"/><rect x="1832" y="113" width="8" height="2" fill="#d9dde1"/><rect x="1848" y="113" width="8" height="2" fill="#d5d5d5"/><rect x="1856" y="113" width="8" height="2" fill="#d9dfe1"/><rect x="1864" y="113" width="8" height="2" fill="#d9dfe1"/><rect x="856" y="178" width="8" height="7" fill="#ffd9b3"/><rect x="864" y="178" width="8" height="7" fill="#ffcc99"/><rect x="872" y="178" width="8" height="7" fill="#ffe6d1"/><rect x="880" y="178" width="8" height="7" fill="#ffdcbc"/><rect x="888" y="178" width="8" height="7" fill="#ffcc99"/><rect x="896" y="178" width="8" height="7" fill="#ffcc99"/><rect x="904" y="178" width="8" height="7" fill="#fff0e3"/><rect x="912" y="178" width="8" height="7" fill="#ffe3cb"/><rect x="920" y="178" width="8" height="7" fill="#ffd3a8"/><rect x="872" y="185" width="8" height="8" fill="#e9b98b"/><rect x="880" y="185" width="8" height="8" fill="#c99a71"/><rect x="888" y="185" width="8" height="8" fill="#deb088"/><rect x="896" y="185" width="8" height="8" fill="#a5836d"/><rect x="904" y="185" width="8" height="8" fill="#927a68"/><rect x="912" y="185" width="8" height="8" fill="#d9ad87"/><rect x="920" y="185" width="8" height="8" fill="#f1cf9f"/><rect x="856" y="193" width="8" height="6" fill="#ffdfc1"/><rect x="872" y="193" width="8" height="6" fill="#ffdcbc"/><rect x="880" y="193" width="8" height="6" fill="#ddb48f"/><rect x="888" y="193" width="8" height="6" fill="#ffd9b3"/><rect x="896" y="193" width="8" height="6" fill="#c9976f"/><rect x="904" y="193" width="8" height="6" fill="#dfaf83"/><rect x="912" y="193" width="8" height="6" fill="#ffe6d1"/><rect x="920" y="193" width="8" height="6" fill="#fff3e9"/><rect x="1264" y="201" width="8" height="8" fill="#7da1a4"/><rect x="1280" y="201" width="8" height="8" fill="#7b9db7"/><rect x="1288" y="201" width="8" height="8" fill="#95bfe3"/><rect x="1304" y="201" width="8" height="8" fill="#67849d"/><rect x="1312" y="201" width="8" height="8" fill="#7fabcf"/><rect x="1256" y="209" width="8" height="3" fill="#7b9bb7"/><rect x="1264" y="209" width="8" height="3" fill="#7da3c3"/><rect x="1280" y="209" width="8" height="3" fill="#8fb7d9"/><rect x="1296" y="209" width="8" height="3" fill="#8db5d3"/><rect x="1304" y="209" width="8" height="3" fill="#7593b3"/><rect x="1312" y="209" width="8" height="3" fill="#7d93b9"/><rect x="1320" y="209" width="8" height="3" fill="#93bbdf"/><rect x="1584" y="230" width="8" height="3" fill="#e9f7d3"/><rect x="1592" y="230" width="8" height="3" fill="#e9f7d3"/><rect x="1600" y="230" width="8" height="3" fill="#dff3c1"/><rect x="1608" y="230" width="8" height="3" fill="#dff3c1"/><rect x="1576" y="233" width="8" height="8" fill="#def3c0"/><rect x="1600" y="233" width="8" height="8" fill="#86a677"/><rect x="1608" y="233" width="8" height="8" fill="#d3efab"/><rect x="1616" y="233" width="8" height="8" fill="#b5d787"/><rect x="1624" y="233" width="8" height="8" fill="#a9cd85"/><rect x="1632" y="233" width="8" height="8" fill="#dff3c1"/><rect x="1592" y="241" width="8" height="7" fill="#707f57"/><rect x="1600" y="241" width="8" height="7" fill="#a9cd85"/><rect x="1608" y="241" width="8" height="7" fill="#cbeb9b"/><rect x="1616" y="241" width="8" height="7" fill="#9bb971"/><rect x="1624" y="241" width="8" height="7" fill="#b5d587"/><rect x="1632" y="241" width="8" height="7" fill="#7a9455"/><rect x="1640" y="241" width="8" height="7" fill="#82a571"/><rect x="1648" y="241" width="8" height="7" fill="#a3c37d"/><rect x="105" y="273" width="8" height="8" fill="#e5e3df"/><rect x="113" y="273" width="8" height="8" fill="#c7c5c1"/><rect x="121" y="273" width="8" height="8" fill="#8f8580"/><rect x="129" y="273" width="8" height="8" fill="#9fb1b7"/><rect x="145" y="273" width="8" height="8" fill="#d3d5d3"/><rect x="153" y="273" width="8" height="8" fill="#c5c9c3"/><rect x="105" y="281" width="8" height="8" fill="#cdd1d5"/><rect x="113" y="281" width="8" height="8" fill="#a9a7a7"/><rect x="121" y="281" width="8" height="8" fill="#c1c5c5"/><rect x="129" y="281" width="8" height="8" fill="#6f7575"/><rect x="137" y="281" width="8" height="8" fill="#8b97a1"/><rect x="145" y="281" width="8" height="8" fill="#737979"/><rect x="153" y="281" width="8" height="8" fill="#9f918f"/><rect x="161" y="281" width="8" height="8" fill="#c1c5d3"/><rect x="105" y="289" width="8" height="2" fill="#b9cde3"/><rect x="113" y="289" width="8" height="2" fill="#b9cde3"/><rect x="64" y="385" width="8" height="8" fill="#c3c1bf"/><rect x="72" y="385" width="8" height="8" fill="#adb5b9"/><rect x="80" y="385" width="8" height="8" fill="#c1c3c3"/><rect x="88" y="385" width="8" height="8" fill="#c1bdbd"/><rect x="96" y="385" width="8" height="8" fill="#c5c9d7"/><rect x="104" y="385" width="8" height="8" fill="#858787"/><rect x="112" y="385" width="8" height="8" fill="#7a7f7f"/><rect x="120" y="385" width="8" height="8" fill="#918f99"/><rect x="128" y="385" width="8" height="8" fill="#8f9ba3"/><rect x="96" y="383" width="8" height="2" fill="#c5c9d7"/><rect x="72" y="393" width="8" height="5" fill="#e3e1dd"/><rect x="80" y="393" width="8" height="5" fill="#c5c1c9"/><rect x="88" y="393" width="8" height="5" fill="#8f938b"/><rect x="96" y="393" width="8" height="5" fill="#7a6558"/><rect x="104" y="393" width="8" height="5" fill="#fff7ed"/><rect x="112" y="393" width="8" height="5" fill="#7f8387"/><rect x="128" y="393" width="8" height="5" fill="#e3effb"/><rect x="120" y="455" width="8" height="2" fill="#c9c5c9"/><rect x="136" y="455" width="8" height="2" fill="#ffffff"/><rect x="144" y="455" width="8" height="2" fill="#e5e5eb"/><rect x="112" y="457" width="8" height="8" fill="#c9c1b7"/><rect x="120" y="457" width="8" height="8" fill="#51495a"/><rect x="128" y="457" width="8" height="8" fill="#c1c1c9"/><rect x="136" y="457" width="8" height="8" fill="#857b6b"/><rect x="144" y="457" width="8" height="8" fill="#99a1af"/><rect x="152" y="457" width="8" height="8" fill="#a3abaf"/><rect x="112" y="465" width="8" height="7" fill="#e5e3df"/><rect x="120" y="465" width="8" height="7" fill="#5f5f6b"/><rect x="128" y="465" width="8" height="7" fill="#c9d9e9"/><rect x="136" y="465" width="8" height="7" fill="#efede7"/><rect x="144" y="465" width="8" height="7" fill="#d9d1cb"/><rect x="152" y="465" width="8" height="7" fill="#939391"/><rect x="56" y="545" width="8" height="8" fill="#fbf7f1"/><rect x="80" y="545" width="8" height="8" fill="#f3f1eb"/><rect x="88" y="545" width="8" height="8" fill="#dfe5e9"/><rect x="96" y="545" width="8" height="8" fill="#dfdbd5"/><rect x="128" y="545" width="8" height="8" fill="#c9c5c1"/><rect x="56" y="553" width="8" height="8" fill="#c9b9a9"/><rect x="64" y="553" width="8" height="8" fill="#9f938b"/><rect x="72" y="553" width="8" height="8" fill="#dfd3c9"/><rect x="80" y="553" width="8" height="8" fill="#8f877d"/><rect x="88" y="553" width="8" height="8" fill="#6f798b"/><rect x="96" y="553" width="8" height="8" fill="#8fa5bd"/><rect x="104" y="553" width="8" height="8" fill="#a3a9a9"/><rect x="112" y="553" width="8" height="8" fill="#8b9b99"/><rect x="120" y="553" width="8" height="8" fill="#afa597"/><rect x="128" y="553" width="8" height="8" fill="#7f8b99"/><rect x="136" y="553" width="8" height="8" fill="#8b9ba5"/><rect x="144" y="553" width="8" height="8" fill="#7a6c70"/><rect x="152" y="553" width="8" height="8" fill="#939fa9"/><rect x="64" y="561" width="8" height="7" fill="#9fadbf"/><rect x="72" y="561" width="8" height="7" fill="#afb9bd"/><rect x="80" y="561" width="8" height="7" fill="#b5bbb9"/><rect x="88" y="561" width="8" height="7" fill="#c9dff5"/><rect x="96" y="561" width="8" height="7" fill="#a99f9d"/><rect x="104" y="561" width="8" height="7" fill="#dfd9d5"/><rect x="112" y="561" width="8" height="7" fill="#a9adb9"/><rect x="120" y="561" width="8" height="7" fill="#b5bfbd"/><rect x="136" y="561" width="8" height="7" fill="#fbf5f3"/><rect x="152" y="561" width="8" height="7" fill="#ebf1f5"/><rect x="169" y="281" width="6" height="8" fill="#939bb3"/><rect x="108" y="457" width="4" height="8" fill="#e5e5ef"/><rect x="108" y="455" width="4" height="2" fill="#fbfbfd"/><rect x="947" y="113" width="13" height="1" fill="#999"/><rect x="968" y="113" width="8" height="1" fill="#ddd"/><rect x="984" y="113" width="8" height="1" fill="#e5dfd5"/><rect x="1128" y="113" width="14" height="1" fill="#ccc"/><rect x="1278" y="124" width="12" height="1" fill="#111"/><rect x="1463" y="124" width="12" height="1" fill="#111"/><rect x="1230" y="91" width="3" height="1" fill="#311"/><rect x="1589" y="115" width="6" height="1" fill="#111"/><rect x="1765" y="115" width="6" height="1" fill="#111"/><rect x="112" y="398" width="3" height="1" fill="#111"/><rect x="107" y="464" width="2" height="2" fill="#222"/><rect x="1594" y="247" width="4" height="2" fill="#1a2a10"/><rect x="850" y="180" width="6" height="5" fill="#fffaf5"/></svg>
</body></html>
